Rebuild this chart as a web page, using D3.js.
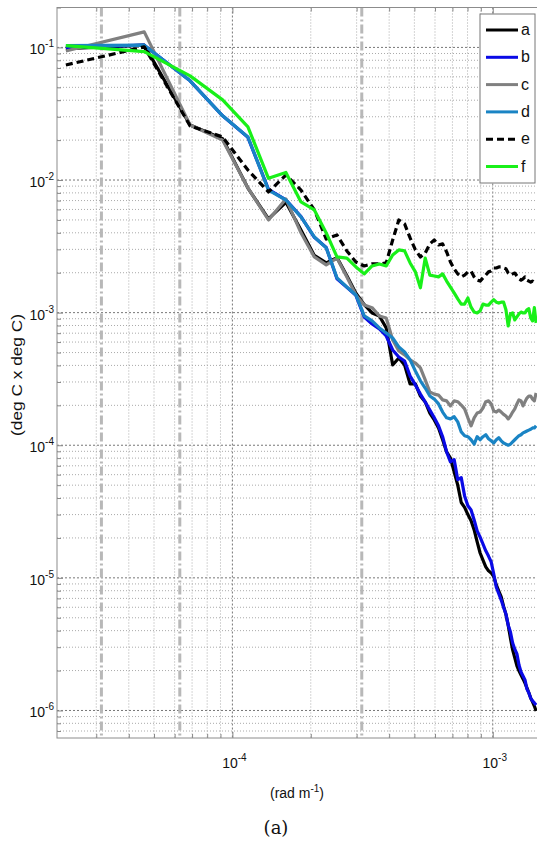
<!DOCTYPE html>
<html><head><meta charset="utf-8">
<script src="https://cdn.jsdelivr.net/npm/d3@7"></script>
<style>body{margin:0;background:#fff}svg{display:block}</style>
</head><body>
<svg id="chart" width="537" height="842"></svg>
<script>
// ---------- data ----------
const wavenumber = [2.293e-5,4.586e-5,6.879e-5,9.172e-5,1.147e-4,1.376e-4,1.605e-4,1.834e-4,2.064e-4,2.293e-4,
2.522e-4,2.752e-4,2.981e-4,3.210e-4,3.440e-4,3.669e-4,3.898e-4,4.127e-4,4.357e-4,4.586e-4,
4.815e-4,5.045e-4,5.274e-4,5.503e-4,5.733e-4,5.962e-4,6.191e-4,6.420e-4,6.650e-4,6.879e-4,
7.108e-4,7.338e-4,7.567e-4,7.796e-4,8.026e-4,8.255e-4,8.484e-4,8.713e-4,8.943e-4,9.172e-4,
9.401e-4,9.631e-4,9.860e-4,1.0089e-3,1.0319e-3,1.0548e-3,1.0777e-3,1.1006e-3,1.1236e-3,1.1465e-3,
1.1694e-3,1.1924e-3,1.2153e-3,1.2382e-3,1.2612e-3,1.2841e-3,1.3070e-3,1.3299e-3,1.3529e-3,1.3758e-3,
1.3987e-3,1.4217e-3,1.4446e-3,1.4675e-3];

const specA = [0.098,0.104,0.026,0.0205,0.0087,0.0051,0.0068,0.0042,0.0027,0.00237,
0.0026,0.0019,0.0014,0.00115,0.000995,0.000944,0.000767,0.000403,0.000455,0.000403,
0.00029,0.00029,0.000235,0.000212,0.000175,0.000155,0.000135,0.00011,8.9e-5,8.0e-5,
6.3e-5,5.0e-5,3.7e-5,3.4e-5,3.0e-5,2.7e-5,2.3e-5,1.87e-5,1.54e-5,1.36e-5,
1.21e-5,1.13e-5,1.09e-5,1.02e-5,8.85e-6,7.96e-6,7.2e-6,6.1e-6,5.3e-6,4.4e-6,
3.5e-6,2.86e-6,2.49e-6,2.17e-6,1.99e-6,1.85e-6,1.73e-6,1.61e-6,1.48e-6,1.36e-6,
1.24e-6,1.16e-6,1.08e-6,9.9e-7];

const specB = [0.1,0.104,0.056,0.0305,0.021,0.0085,0.0071,0.0053,0.0037,0.0031,
0.0018,0.00155,0.00135,0.000927,0.000822,0.000753,0.000667,0.000523,0.000463,0.000432,
0.000333,0.000285,0.000243,0.000212,0.000184,0.000161,0.00014,0.000116,8.9e-5,7.5e-5,
7.8e-5,5.5e-5,5.7e-5,4.15e-5,3.5e-5,3.25e-5,2.73e-5,2.26e-5,2.03e-5,1.8e-5,
1.6e-5,1.46e-5,1.32e-5,1.07e-5,8.5e-6,7.6e-6,6.8e-6,6.0e-6,5.34e-6,4.4e-6,
3.9e-6,3.23e-6,2.9e-6,2.67e-6,2.2e-6,1.95e-6,1.82e-6,1.7e-6,1.45e-6,1.36e-6,
1.24e-6,1.18e-6,1.14e-6,1.1e-6];

const specC = [0.094,0.131,0.026,0.020,0.00872,0.005,0.0072,0.004,0.00263,0.00229,
0.00258,0.00186,0.00136,0.00114,0.00109,0.000944,0.000912,0.000622,0.000514,0.00048,
0.00044,0.000417,0.000383,0.000311,0.000252,0.000243,0.000239,0.00022,0.000216,0.000198,
0.000216,0.000213,0.000201,0.000188,0.000161,0.00014,0.000161,0.000175,0.000178,0.000191,
0.000213,0.000216,0.000205,0.000181,0.000178,0.000184,0.000178,0.000171,0.000166,0.000158,
0.000166,0.000178,0.000188,0.000205,0.00022,0.000216,0.000198,0.000213,0.000227,0.000235,
0.000235,0.000223,0.000216,0.000248];

const specD = [0.103,0.104,0.056,0.0305,0.0211,0.0084,0.00707,0.00527,0.00372,0.00308,
0.00183,0.00156,0.00136,0.000944,0.000866,0.000767,0.000703,0.000644,0.000551,0.000505,
0.00044,0.000363,0.000306,0.00027,0.000235,0.000223,0.000205,0.000178,0.000161,0.000158,
0.000164,0.00015,0.000126,0.000118,0.000116,0.00011,0.000102,0.000116,0.00011,0.000116,
0.00012,0.000112,0.000108,0.000104,0.00011,0.000114,0.000108,0.000104,0.000102,0.0001,
0.000102,0.000106,0.00011,0.000114,0.000118,0.00012,0.000124,0.000126,0.000128,0.00013,
0.000132,0.000135,0.000135,0.00014];

const specE = [0.0737,0.101,0.0256,0.0211,0.0119,0.00813,0.0109,0.0084,0.00595,0.00359,
0.00385,0.00292,0.00241,0.00225,0.00233,0.00233,0.00237,0.00353,0.005,0.00467,
0.00366,0.00297,0.00263,0.00282,0.0033,0.00353,0.00324,0.0033,0.00287,0.00241,
0.00214,0.00196,0.00186,0.00192,0.00203,0.00206,0.00186,0.00176,0.00173,0.00183,
0.00192,0.00203,0.00206,0.00217,0.00217,0.00221,0.00221,0.00217,0.00214,0.00199,
0.00192,0.00196,0.00199,0.00189,0.0018,0.00176,0.0018,0.00186,0.00176,0.00173,
0.0017,0.00173,0.00167,0.00165];

const specF = [0.103,0.093,0.061,0.0402,0.0252,0.0103,0.0114,0.00683,0.00595,0.00399,
0.00263,0.00258,0.00221,0.00196,0.00225,0.00233,0.00225,0.00272,0.00297,0.00292,
0.00237,0.00203,0.00154,0.00258,0.00192,0.00189,0.00186,0.00196,0.00173,0.00156,
0.00141,0.00127,0.00116,0.00116,0.00129,0.0011,0.00101,0.000995,0.00103,0.00116,
0.00114,0.00114,0.0012,0.00125,0.0012,0.00118,0.0012,0.0012,0.00105,0.000794,
0.000978,0.000995,0.000881,0.000928,0.000978,0.00101,0.000995,0.000995,0.00105,0.00107,
0.000912,0.000866,0.00109,0.000836];

const seriesNames = ["a","b","c","d","e","f"];
const markerLines = [3.14e-5, 6.28e-5, 3.14e-4];   // vertical reference wavenumbers
const yTickExps = [-1,-2,-3,-4,-5,-6];
const xTickExps = [-4,-3];
const xLabel = "(rad m", xLabelSup = "-1", xLabelEnd = ")";
const yLabel = "(deg C x deg C)";
const caption = "(a)";

// ---------- styles ----------
const styles = {
  a:{color:"#000000", dash:null},
  b:{color:"#0a0ae6", dash:null},
  c:{color:"#808080", dash:null},
  d:{color:"#1a84c4", dash:null},
  e:{color:"#000000", dash:"7,4"},
  f:{color:"#19f019", dash:null}
};
const seriesData = {a:specA,b:specB,c:specC,d:specD,e:specE,f:specF};

// ---------- layout ----------
const svg = d3.select("#chart");
const L = 57, R = 538.6, T = 7.5, B = 738;
const x = d3.scaleLog().domain([2.12e-5, 1.5e-3]).range([L, R]);
const y = d3.scaleLog().domain([6.2e-7, 0.2]).range([B, T]);
const font = "'Liberation Sans', Arial, Helvetica, sans-serif";

svg.append("rect").attr("width",537).attr("height",842).attr("fill","#fff");
svg.append("defs").append("clipPath").attr("id","clip")
  .append("rect").attr("x",L).attr("y",T).attr("width",R-L).attr("height",B-T);

const isMajor = v => Math.abs(Math.log10(v) - Math.round(Math.log10(v))) < 1e-6;
const xt = x.ticks(), yt = y.ticks();

// grid
const grid = svg.append("g");
grid.selectAll(".gx").data(xt).join("line")
  .attr("x1", d=>x(d)).attr("x2", d=>x(d)).attr("y1", T).attr("y2", B)
  .attr("stroke", d=>isMajor(d)?"#777":"#aaa").attr("stroke-width",1)
  .attr("stroke-dasharray", d=>isMajor(d)?"2,2":"1,2");
grid.selectAll(".gy").data(yt).join("line")
  .attr("x1", L).attr("x2", R).attr("y1", d=>y(d)).attr("y2", d=>y(d))
  .attr("stroke", d=>isMajor(d)?"#777":"#aaa").attr("stroke-width",1)
  .attr("stroke-dasharray", d=>isMajor(d)?"2,2":"1,2");

// vertical reference lines
svg.append("g").selectAll("line").data(markerLines).join("line")
  .attr("x1", d=>x(d)).attr("x2", d=>x(d)).attr("y1", T).attr("y2", B)
  .attr("stroke","#b8b8b8").attr("stroke-width",3).attr("stroke-dasharray","9,3,2,3");

// axes (ticks inward, all four sides)
function axisStyle(g){ g.select(".domain").remove(); g.selectAll("line").attr("stroke","#888"); g.selectAll("text").remove(); }
const xMaj = xt.filter(isMajor), yMaj = yt.filter(isMajor);
const xMin = xt.filter(d=>!isMajor(d)), yMin = yt.filter(d=>!isMajor(d));
svg.append("g").attr("transform",`translate(0,${B})`).call(d3.axisBottom(x).tickValues(xMaj).tickSize(-6)).call(axisStyle);
svg.append("g").attr("transform",`translate(0,${B})`).call(d3.axisBottom(x).tickValues(xMin).tickSize(-4)).call(axisStyle);
svg.append("g").attr("transform",`translate(0,${T})`).call(d3.axisTop(x).tickValues(xMaj).tickSize(-6)).call(axisStyle);
svg.append("g").attr("transform",`translate(0,${T})`).call(d3.axisTop(x).tickValues(xMin).tickSize(-4)).call(axisStyle);
svg.append("g").attr("transform",`translate(${L},0)`).call(d3.axisLeft(y).tickValues(yMaj).tickSize(-6)).call(axisStyle);
svg.append("g").attr("transform",`translate(${L},0)`).call(d3.axisLeft(y).tickValues(yMin).tickSize(-4)).call(axisStyle);

// series
const line = d3.line().x((d,i)=>x(wavenumber[i])).y(d=>y(d));
const plot = svg.append("g").attr("clip-path","url(#clip)");
seriesNames.forEach(n=>{
  plot.append("path").datum(seriesData[n]).attr("d", line)
    .attr("fill","none").attr("stroke", styles[n].color).attr("stroke-width",3.2)
    .attr("stroke-linejoin","round")
    .attr("stroke-dasharray", styles[n].dash);
});

// box
svg.append("rect").attr("x",L).attr("y",T).attr("width",R-L).attr("height",B-T)
  .attr("fill","none").attr("stroke","#8c8c8c").attr("stroke-width",1);

// tick labels
yTickExps.forEach(e=>{
  const t = svg.append("text").attr("x",54).attr("y",y(Math.pow(10,e))+7)
    .attr("text-anchor","end").attr("font-family",font).attr("font-size",14).attr("fill","#111");
  t.append("tspan").text("10");
  t.append("tspan").attr("dy",-7).attr("font-size",10).text(String(e));
});
xTickExps.forEach(e=>{
  const t = svg.append("text").attr("x",x(Math.pow(10,e))+2).attr("y",768)
    .attr("text-anchor","middle").attr("font-family",font).attr("font-size",14).attr("fill","#111");
  t.append("tspan").text("10");
  t.append("tspan").attr("dy",-7).attr("font-size",10).text(String(e));
});

// axis labels
const xl = svg.append("text").attr("x",297).attr("y",798).attr("text-anchor","middle")
  .attr("font-family",font).attr("font-size",14).attr("fill","#111");
xl.append("tspan").text(xLabel);
xl.append("tspan").attr("dy",-6).attr("font-size",10).text(xLabelSup);
xl.append("tspan").attr("dy",6).text(xLabelEnd);

svg.append("text").attr("transform","translate(22,375) rotate(-90)").attr("text-anchor","middle")
  .attr("font-family",font).attr("font-size",15).attr("fill","#111")
  .attr("textLength",122).attr("lengthAdjust","spacingAndGlyphs").text(yLabel);

svg.append("text").attr("x",276).attr("y",834).attr("text-anchor","middle")
  .attr("font-family","'DejaVu Serif','Liberation Serif',serif").attr("font-size",18).attr("fill","#111")
  .text(caption);

// legend
const lg = svg.append("g");
lg.append("rect").attr("x",480).attr("y",14).attr("width",55).attr("height",169)
  .attr("fill","#fff").attr("stroke","#777").attr("stroke-width",1);
seriesNames.forEach((n,i)=>{
  const yy = 30 + i*27.3;
  lg.append("line").attr("x1",486).attr("x2",518).attr("y1",yy).attr("y2",yy)
    .attr("stroke",styles[n].color).attr("stroke-width",3).attr("stroke-dasharray",styles[n].dash);
  lg.append("text").attr("x",521).attr("y",yy+5).attr("font-family",font).attr("font-size",16)
    .attr("fill","#111").text(n);
});
</script>
</body></html>
